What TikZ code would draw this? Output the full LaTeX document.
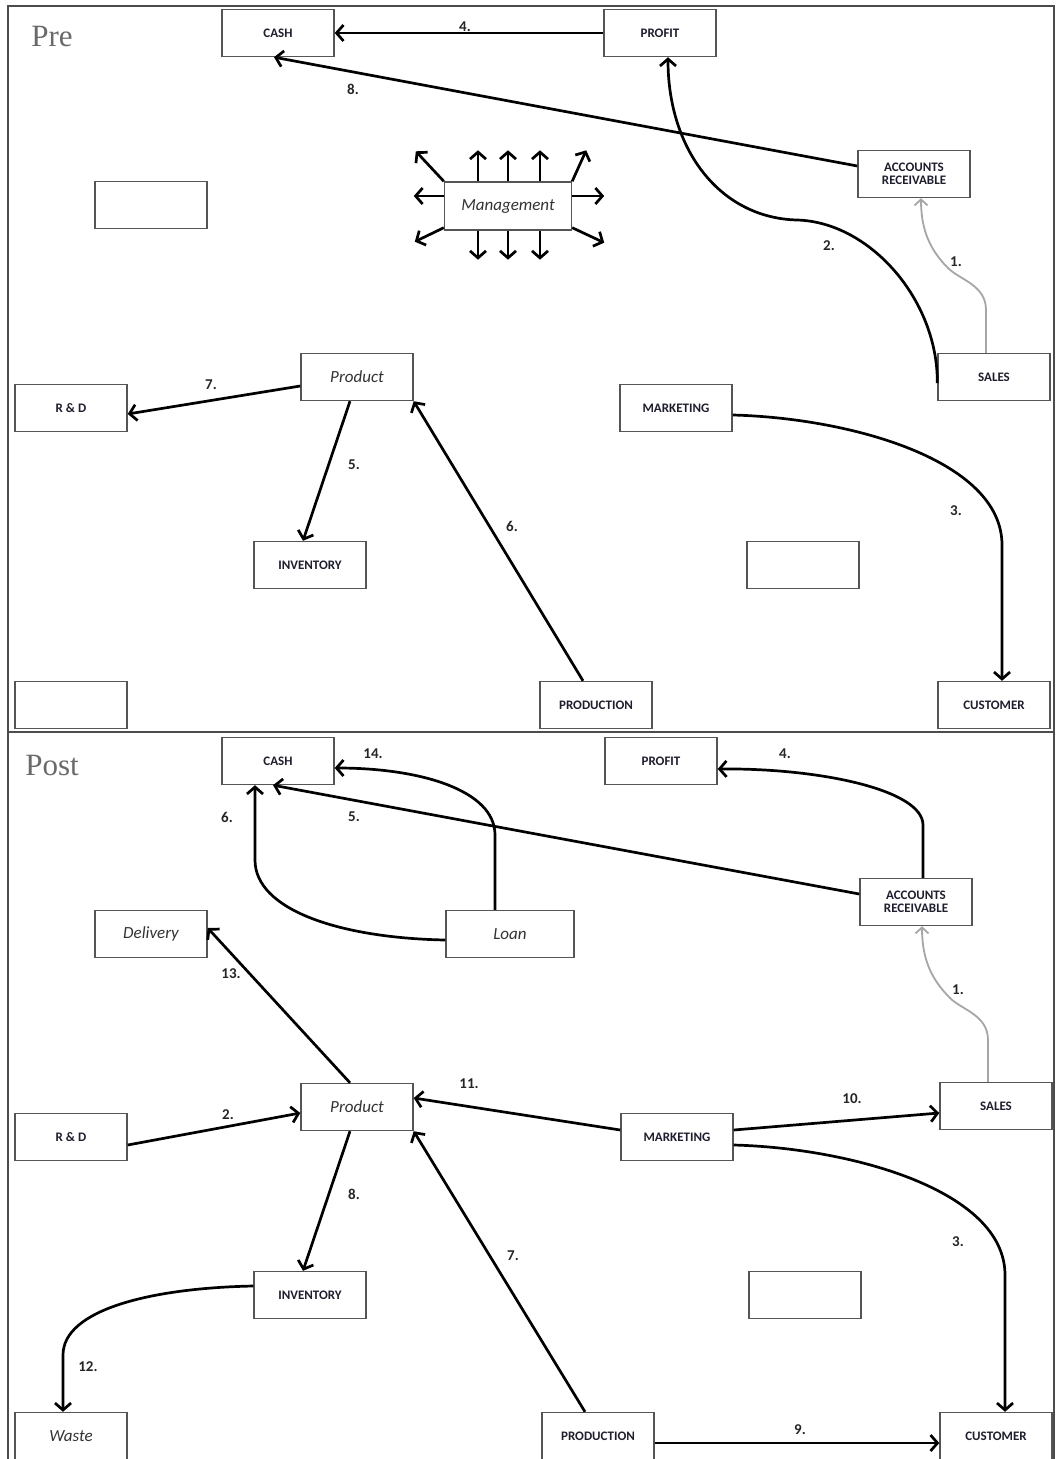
\documentclass[tikz,border=0pt]{standalone}
\usepackage{fontspec}
\setmainfont{Carlito}
\newfontfamily\titlefont{Liberation Serif}
\usetikzlibrary{arrows.meta,calc}
\definecolor{boxline}{HTML}{555555}
\definecolor{captxt}{HTML}{1E1E2E}
\definecolor{titlegray}{HTML}{6A6A6A}
\begin{document}
\begin{tikzpicture}[x=1pt,y=-1pt,
  box/.style={draw=boxline,line width=1.4pt,fill=white,minimum width=112pt,minimum height=47pt,inner sep=1pt,align=center},
  capbox/.style={box,font=\fontsize{13}{14}\selectfont\bfseries,text=captxt},
  itbox/.style={box,font=\fontsize{17}{19}\selectfont\itshape,text=black!80},
  num/.style={font=\fontsize{15}{16}\selectfont\bfseries,text=black!85,inner sep=0pt},
  ttl/.style={font=\titlefont\fontsize{31}{33}\selectfont,text=titlegray,inner sep=0pt},
  flow/.style={line width=2.7pt,-{Straight Barb[length=7pt,width=16pt,line width=2.7pt]}},
  grayflow/.style={line width=1.8pt,draw=black!35,-{Straight Barb[length=6pt,width=13pt,line width=1.8pt]}},
  frame/.style={draw=black!70,line width=1.4pt}
]
\useasboundingbox (0,0) rectangle (1055,1459);
\fill[white] (0,0) rectangle (1055,1459);
% frame
\draw[frame] (8,1459) -- (8,6) -- (1054,6) -- (1054,1459);
\draw[frame] (8,732) -- (1054,732);

% ===== PRE =====
\node[ttl] (tpre) at (52,37) {Pre};
\node[capbox] (cashA) at (278,33) {CASH};
\node[capbox] (profitA) at (660,33) {PROFIT};
\node[capbox] (arA) at (914,174) {ACCOUNTS\\[-1pt]RECEIVABLE};
\node[box] (emptyA1) at (151,205) {};
\node[itbox,minimum width=127pt,minimum height=48pt] (mgmt) at (508,206) {Management};
\node[capbox] (salesA) at (994,377) {SALES};
\node[itbox] (productA) at (357,377) {Product};
\node[capbox] (rdA) at (71,408) {R \& D};
\node[capbox] (mktA) at (676,408) {MARKETING};
\node[capbox] (invA) at (310,565) {INVENTORY};
\node[box] (emptyA2) at (803,565) {};
\node[box] (emptyA3) at (71,705) {};
\node[capbox] (prodA) at (596,705) {PRODUCTION};
\node[capbox] (custA) at (994,705) {CUSTOMER};

\draw[flow] (profitA.west) -- (cashA.east);
\draw[flow] ($(arA.west)+(0,-8)$) -- ($(cashA.south)+(-4,0)$);
\draw[flow] ($(salesA.west)+(0,6)$) .. controls (938,300) and (870,222) .. (797,220)
   .. controls (720,218) and (668,150) .. ($(profitA.south)+(8,0)$);
\draw[grayflow] ($(salesA.north)+(-8,0)$) -- (986,310) .. controls (986,285) and (960,280) .. (948,268)
   .. controls (930,250) and (921,230) .. ($(arA.south)+(7,0)$);
% management arrows
\draw[flow] ($(mgmt.north)+(-30,0)$) -- ++(0,-31);
\draw[flow] (mgmt.north) -- ++(0,-31);
\draw[flow] ($(mgmt.north)+(32,0)$) -- ++(0,-31);
\draw[flow] ($(mgmt.south)+(-30,0)$) -- ++(0,29);
\draw[flow] (mgmt.south) -- ++(0,29);
\draw[flow] ($(mgmt.south)+(32,0)$) -- ++(0,29);
\draw[flow] ($(mgmt.west)+(0,-10)$) -- ++(-30,0);
\draw[flow] ($(mgmt.east)+(0,-10)$) -- ++(32,0);
\draw[flow] (mgmt.north west) -- ++(-28,-30);
\draw[flow] (mgmt.north east) -- ++(14,-31);
\draw[flow] ($(mgmt.south west)+(0,-3)$) -- ++(-29,14);
\draw[flow] ($(mgmt.south east)+(0,-3)$) -- ++(32,15);

\draw[flow] ($(productA.west)+(0,9)$) -- ($(rdA.east)+(0,6)$);
\draw[flow] ($(productA.south)+(-7,0)$) -- ($(invA.north)+(-7,0)$);
\draw[flow] ($(prodA.north)+(-13,0)$) -- (productA.south east);
\draw[flow] ($(mktA.east)+(0,7)$) .. controls (850,418) and (1002,460) .. (1002,545) -- ($(custA.north)+(8,0)$);

\node[num] (pl4) at (465,27) {4.};
\node[num] (pl8) at (353,89) {8.};
\node[num] (pl2) at (829,246) {2.};
\node[num] (pl1) at (956,262) {1.};
\node[num] (pl7) at (211,385) {7.};
\node[num] (pl5) at (354,465) {5.};
\node[num] (pl6) at (512,526) {6.};
\node[num] (pl3) at (956,511) {3.};

% ===== POST =====
\node[ttl] (tpost) at (52,765) {Post};
\node[capbox] (cashB) at (278,761) {CASH};
\node[capbox] (profitB) at (661,761) {PROFIT};
\node[capbox] (arB) at (916,902) {ACCOUNTS\\[-1pt]RECEIVABLE};
\node[itbox] (delivB) at (151,934) {Delivery};
\node[itbox,minimum width=128pt] (loanB) at (510,934) {Loan};
\node[itbox] (productB) at (357,1107) {Product};
\node[capbox] (salesB) at (996,1106) {SALES};
\node[capbox] (rdB) at (71,1137) {R \& D};
\node[capbox] (mktB) at (677,1137) {MARKETING};
\node[capbox] (invB) at (310,1295) {INVENTORY};
\node[box] (emptyB) at (805,1295) {};
\node[itbox] (wasteB) at (71,1436) {Waste};
\node[capbox] (prodB) at (598,1436) {PRODUCTION};
\node[capbox] (custB) at (996,1436) {CUSTOMER};

\draw[flow] ($(loanB.north)+(-15,0)$) -- (495,835) .. controls (495,790) and (420,768) .. ($(cashB.east)+(0,7)$);
\draw[flow] ($(loanB.west)+(0,6)$) .. controls (340,938) and (255,910) .. (255,860) -- ($(cashB.south)+(-23,0)$);
\draw[flow] ($(arB.west)+(0,-8)$) -- ($(cashB.south)+(-5,0)$);
\draw[flow] ($(arB.north)+(7,0)$) -- (923,825) .. controls (923,790) and (820,768) .. ($(profitB.east)+(0,8)$);
\draw[grayflow] ($(salesB.north)+(-8,0)$) -- (988,1040) .. controls (988,1015) and (962,1010) .. (950,998)
   .. controls (932,980) and (922,960) .. ($(arB.south)+(6,0)$);
\draw[flow] ($(productB.north)+(-7,0)$) -- ($(delivB.east)+(0,-6)$);
\draw[flow] ($(rdB.east)+(0,8)$) -- ($(productB.west)+(0,6)$);
\draw[flow] ($(mktB.west)+(0,-7)$) -- ($(productB.east)+(0,-9)$);
\draw[flow] ($(mktB.east)+(0,-7)$) -- ($(salesB.west)+(0,7)$);
\draw[flow] ($(mktB.east)+(0,8)$) .. controls (850,1148) and (1005,1190) .. (1005,1275) -- ($(custB.north)+(9,0)$);
\draw[flow] ($(productB.south)+(-7,0)$) -- ($(invB.north)+(-7,0)$);
\draw[flow] ($(prodB.north)+(-13,0)$) -- (productB.south east);
\draw[flow] ($(invB.west)+(0,-9)$) .. controls (150,1288) and (63,1310) .. (63,1355) -- ($(wasteB.north)+(-8,0)$);
\draw[flow] ($(prodB.east)+(0,7)$) -- ($(custB.west)+(0,7)$);

\node[num] (ql14) at (373,754) {14.};
\node[num] (ql6) at (227,817) {6.};
\node[num] (ql5) at (354,817) {5.};
\node[num] (ql4) at (785,754) {4.};
\node[num] (ql1) at (958,990) {1.};
\node[num] (ql13) at (231,974) {13.};
\node[num] (ql2) at (228,1115) {2.};
\node[num] (ql11) at (469,1084) {11.};
\node[num] (ql10) at (852,1099) {10.};
\node[num] (ql3) at (958,1242) {3.};
\node[num] (ql8) at (354,1194) {8.};
\node[num] (ql7) at (513,1256) {7.};
\node[num] (ql12) at (88,1367) {12.};
\node[num] (ql9) at (800,1430) {9.};
\end{tikzpicture}
\end{document}
